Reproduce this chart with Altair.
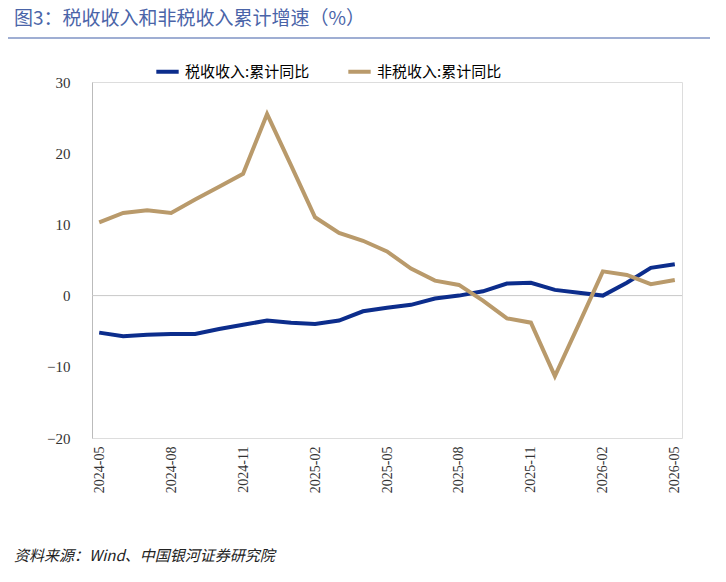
import altair as alt
import pandas as pd

months = ["2024-05","2024-06","2024-07","2024-08","2024-09","2024-10","2024-11","2024-12",
          "2025-01","2025-02","2025-03","2025-04","2025-05","2025-06","2025-07","2025-08",
          "2025-09","2025-10","2025-11","2025-12","2026-01","2026-02","2026-03","2026-04","2026-05"]
tax = [-5.2,-5.7,-5.5,-5.4,-5.4,-4.7,-4.1,-3.5,-3.8,-4.0,-3.5,-2.2,-1.7,-1.3,-0.4,0.0,
       0.6,1.7,1.8,0.8,0.4,0.0,1.8,3.9,4.4]
nontax = [10.3,11.6,12.0,11.6,13.5,15.3,17.1,25.5,18.3,11.0,8.8,7.7,6.2,3.8,2.1,1.5,
          -0.7,-3.2,-3.8,-11.3,-4.0,3.4,2.9,1.6,2.2]
s1 = "税收收入:累计同比"
s2 = "非税收入:累计同比"
tick_months = months[::3]

df = pd.concat([
    pd.DataFrame({"m": months, "v": tax, "s": s1}),
    pd.DataFrame({"m": months, "v": nontax, "s": s2}),
])

W, H = 590, 356
font = "Noto Sans CJK SC"

x = alt.X("m:N", sort=months, title=None, scale=alt.Scale(padding=0.5, paddingOuter=0.3),
          axis=alt.Axis(values=tick_months, labelAngle=-90, labelFontSize=14, labelColor="#333",
                        domain=False, ticks=False, labelPadding=8, labelFont="Liberation Serif"))
y = alt.Y("v:Q", title=None, scale=alt.Scale(domain=[-20, 30], nice=False),
          axis=alt.Axis(values=[-20,-10,0,10,20,30], grid=False, ticks=False, domainColor="#bbb",
                        labelFontSize=15, labelColor="#333", labelPadding=22, labelFont="Liberation Serif"))

lines = alt.Chart(df).mark_line(strokeWidth=4).encode(
    x=x, y=y,
    color=alt.Color("s:N", sort=[s1, s2], title=None,
                    scale=alt.Scale(domain=[s1, s2], range=["#0c2d8c", "#b99a6b"]),
                    legend=alt.Legend(orient="none", direction="horizontal", legendX=62, legendY=-24,
                                      symbolType="stroke", symbolStrokeWidth=4, symbolSize=500,
                                      labelFontSize=15, labelFont=font, columnPadding=30)))

zero = alt.Chart(pd.DataFrame({"v": [0]})).mark_rule(color="#c8c8c8", strokeWidth=1).encode(y=alt.Y("v:Q"))

title = alt.Chart(pd.DataFrame({"t": ["图3：税收收入和非税收入累计增速（%）"]})).mark_text(
    align="left", baseline="middle", fontSize=19, color="#4a64a8", font=font).encode(
    text="t:N", x=alt.value(-78), y=alt.value(-63))
rule = alt.Chart(pd.DataFrame({"a": [0]})).mark_rule(color="#7f93c4", strokeWidth=1.5).encode(
    x=alt.value(-84), x2=alt.value(618), y=alt.value(-44))
src = alt.Chart(pd.DataFrame({"t": ["资料来源：Wind、中国银河证券研究院"]})).mark_text(
    align="left", baseline="middle", fontSize=15, fontStyle="italic", color="#222", font=font).encode(
    text="t:N", x=alt.value(-78), y=alt.value(H + 118))

chart = alt.layer(zero, lines, title, rule, src).properties(
    width=W, height=H, autosize=alt.AutoSizeParams(type="none"),
    padding={"left": 84, "top": 74, "right": 36, "bottom": 136}
).configure_view(stroke=None).configure(background="white")

chart.save("out.html", embed_options={"renderer": "svg", "actions": False})
